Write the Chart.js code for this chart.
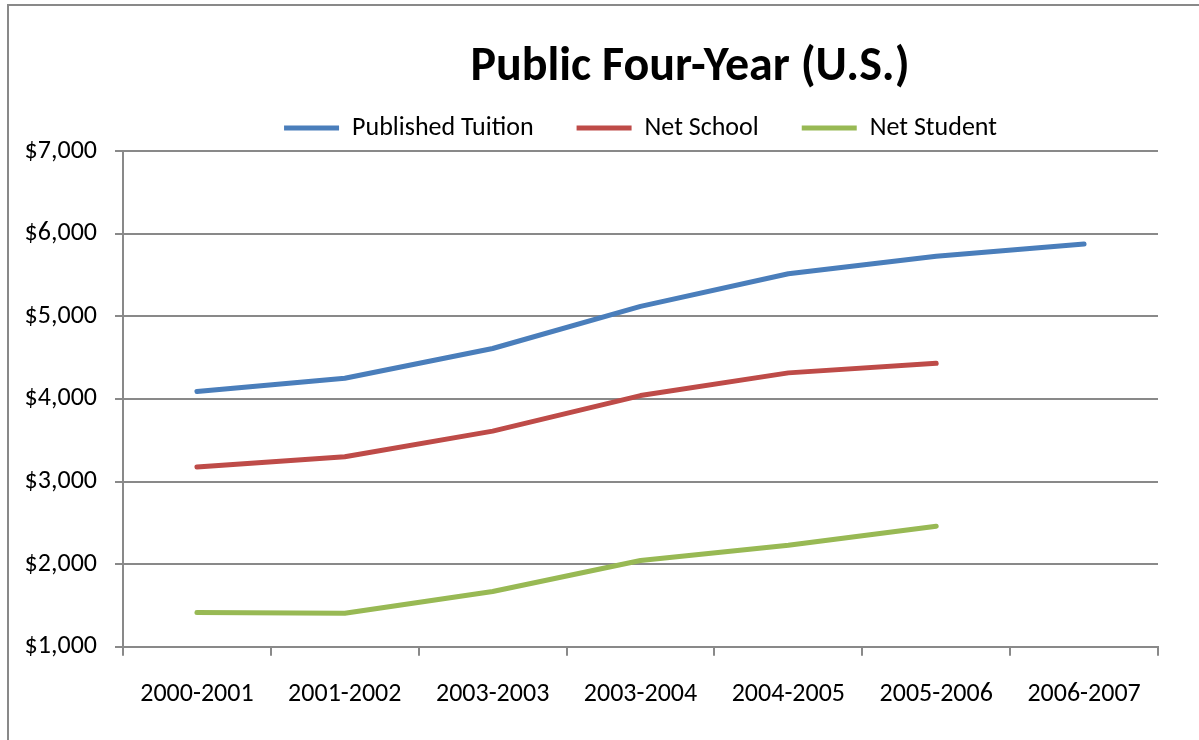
<!DOCTYPE html>
<html>
<head>
<meta charset="utf-8">
<script src="https://cdn.jsdelivr.net/npm/chart.js@4"></script>
<style>
html,body{margin:0;padding:0;background:#fff;}
#wrap{position:relative;width:1199px;height:740px;}
</style>
</head>
<body>
<div id="wrap"><canvas id="c" width="1199" height="740"></canvas></div>
<script>
const chartTitle = 'Public Four-Year (U.S.)';
const categories = ['2000-2001','2001-2002','2003-2003','2003-2004','2004-2005','2005-2006','2006-2007'];
const seriesNames = ['Published Tuition','Net School','Net Student'];
const publishedTuition = [4090, 4250, 4610, 5120, 5515, 5725, 5875];
const netSchool = [3175, 3300, 3610, 4040, 4315, 4430, null];
const netStudent = [1415, 1405, 1670, 2045, 2230, 2460, null];
const yTicks = [1000, 2000, 3000, 4000, 5000, 6000, 7000];
const colors = ['#4A7EBB', '#BE4B48', '#98B954'];

const FONT = 'Carlito, Lato, sans-serif';
const GRID = '#898989';

const frame = {
  id: 'frame',
  beforeDraw(chart) {
    const ctx = chart.ctx;
    ctx.save();
    ctx.fillStyle = '#fff';
    ctx.fillRect(0, 0, chart.width, chart.height);
    ctx.strokeStyle = GRID;
    ctx.lineWidth = 2;
    ctx.beginPath();
    ctx.moveTo(8, chart.height + 5);
    ctx.lineTo(8, 5);
    ctx.lineTo(chart.width + 5, 5);
    ctx.stroke();
    ctx.restore();
  },
  afterDraw(chart) {
    const ctx = chart.ctx;
    ctx.save();
    ctx.fillStyle = '#000';
    ctx.font = 'bold 48px ' + FONT;
    ctx.textAlign = 'center';
    ctx.textBaseline = 'middle';
    ctx.fillText(chartTitle, 690, 68);
    ctx.restore();
  }
};

const datasets = [publishedTuition, netSchool, netStudent].map((d, i) => ({
  label: seriesNames[i],
  data: d,
  borderColor: colors[i],
  backgroundColor: colors[i],
  borderWidth: 5,
  pointRadius: 0,
  pointHoverRadius: 0,
  tension: 0,
  borderCapStyle: 'round',
  borderJoinStyle: 'round',
  fill: false
}));

new Chart(document.getElementById('c'), {
  type: 'line',
  data: { labels: categories, datasets },
  plugins: [frame],
  options: {
    responsive: false,
    animation: false,
    layout: { padding: { left: 0, right: 41, top: 72, bottom: 7 } },
    plugins: {
      title: { display: false },
      tooltip: { enabled: false },
      legend: {
        display: true,
        position: 'top',
        fullSize: false,
        labels: {
          boxWidth: 55,
          boxHeight: 5,
          padding: 43,
          color: '#000',
          font: { family: FONT, size: 26 },
          generateLabels(chart) {
            return chart.data.datasets.map((ds, i) => ({
              text: ds.label,
              fillStyle: ds.borderColor,
              strokeStyle: ds.borderColor,
              lineWidth: 0,
              fontColor: '#000',
              datasetIndex: i,
              hidden: false
            }));
          }
        }
      }
    },
    scales: {
      x: {
        type: 'category',
        offset: true,
        grid: {
          offset: true,
          drawOnChartArea: false,
          drawTicks: true,
          tickLength: 9,
          color: GRID,
          lineWidth: 2
        },
        border: { display: true, color: GRID, width: 2 },
        ticks: {
          color: '#000',
          font: { family: FONT, size: 26 },
          padding: 23,
          maxRotation: 0,
          autoSkip: false
        }
      },
      y: {
        min: 1000,
        max: 7000,
        afterFit(scale) { scale.width = 123; },
        afterBuildTicks(scale) { scale.ticks = yTicks.map(v => ({ value: v })); },
        grid: {
          drawTicks: true,
          tickLength: 8,
          color: GRID,
          lineWidth: 2
        },
        border: { display: true, color: GRID, width: 2 },
        ticks: {
          color: '#000',
          font: { family: FONT, size: 26 },
          padding: 18,
          callback: v => '$' + Number(v).toLocaleString('en-US')
        }
      }
    }
  }
});
</script>
</body>
</html>
